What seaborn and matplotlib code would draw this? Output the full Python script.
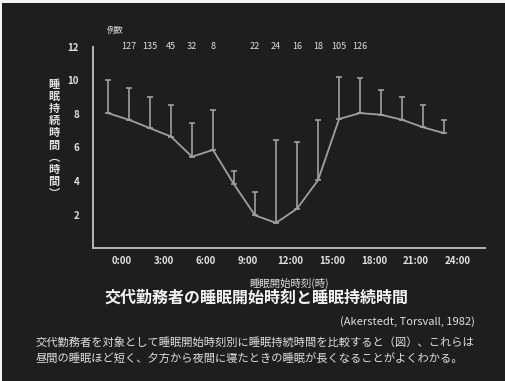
import matplotlib
matplotlib.use("Agg")
import matplotlib.pyplot as plt
import seaborn as sns
import numpy as np
import pandas as pd

# ---- data ----
onset_hours = [-1, 0.5, 2, 3.5, 5, 6.5, 8, 9.5, 11, 12.5, 14, 15.5, 17, 18.5, 20, 21.5, 23]
mean_sleep = [8.05, 7.65, 7.15, 6.65, 5.45, 5.85, 3.8, 1.95, 1.5, 2.35, 4.05, 7.7, 8.05, 7.95, 7.65, 7.2, 6.85]
upper_sleep = [10.0, 9.55, 9.0, 8.55, 7.45, 8.25, 4.6, 3.35, 6.45, 6.35, 7.65, 10.2, 10.15, 9.45, 9.0, 8.55, 7.65]
count_hours = [0.5, 2, 3.5, 5, 6.5, 9.5, 11, 12.5, 14, 15.5, 17]
count_labels = ["127", "135", "45", "32", "8", "22", "24", "16", "18", "105", "126"]
xtick_hours = [0, 3, 6, 9, 12, 15, 18, 21, 24]
xtick_labels = ["0:00", "3:00", "6:00", "9:00", "12:00", "15:00", "18:00", "21:00", "24:00"]
ytick_values = [2, 4, 6, 8, 10, 12]

title = "交代勤務者の睡眠開始時刻と睡眠持続時間"
citation = "(Akerstedt, Torsvall, 1982)"
note1 = "交代勤務者を対象として睡眠開始時刻別に睡眠持続時間を比較すると（図）、これらは"
note2 = "昼間の睡眠ほど短く、夕方から夜間に寝たときの睡眠が長くなることがよくわかる。"
xlabel = "睡眠開始時刻(時)"
ylabel = "睡眠持続時間︵時間︶"

BG = "#1e1e1e"
LINE = "#a0a0a0"
AXC = "#b8b8b8"
TXT = "#e0e0e0"

sns.set_theme(style="dark")
plt.rcParams["font.family"] = ["Noto Sans CJK JP", "DejaVu Sans"]

fig = plt.figure(figsize=(5.05, 3.81), dpi=100, facecolor=BG)
ax = fig.add_axes([0.184, 0.349, 0.776, 0.528])
ax.set_facecolor(BG)

df = pd.DataFrame({"h": onset_hours, "m": mean_sleep, "u": upper_sleep})
sns.lineplot(data=df, x="h", y="m", ax=ax, color=LINE, linewidth=1.3)
err = np.array(upper_sleep) - np.array(mean_sleep)
ax.errorbar(onset_hours, mean_sleep, yerr=[np.zeros(len(err)), err], fmt="none",
            ecolor=LINE, elinewidth=1.2, capsize=2.5, capthick=1.2)

ax.set_xlim(-2.07, 25.9)
ax.set_ylim(0, 12)
ax.set_xticks(xtick_hours)
ax.set_xticklabels(xtick_labels, color=TXT, fontsize=7, fontweight="bold")
ax.set_yticks(ytick_values)
ax.set_yticklabels([str(v) for v in ytick_values], color=TXT, fontsize=7, fontweight="bold")
ax.tick_params(axis="both", direction="in", length=5, width=1.2, color=AXC, pad=6)
ax.tick_params(axis="y", pad=10)
ax.set_xlabel(xlabel, color=TXT, fontsize=7.5, labelpad=8)
ax.set_ylabel("")
ax.grid(False)
for s in ["top", "right"]:
    ax.spines[s].set_visible(False)
for s in ["left", "bottom"]:
    ax.spines[s].set_visible(True)
    ax.spines[s].set_color(AXC)
    ax.spines[s].set_linewidth(1.4)

for h, lab in zip(count_hours, count_labels):
    ax.text(h, 12.0, lab, color=TXT, fontsize=6.5, ha="center", va="center", clip_on=False)
ax.text(-0.5, 13.0, "例数", color=TXT, fontsize=6, ha="center", va="center", clip_on=False)

fig.text(0.107, 0.635, "\n".join(ylabel), color=TXT, fontsize=8, ha="center", va="center",
         linespacing=0.92, fontweight="bold")

fig.text(0.508, 0.218, title, color="#f2f2f2", fontsize=11.5, fontweight="bold", ha="center", va="center")
fig.text(0.94, 0.155, citation, color=TXT, fontsize=8, ha="right", va="center")
fig.text(0.07, 0.102, note1, color=TXT, fontsize=8.1, ha="left", va="center")
fig.text(0.07, 0.06, note2, color=TXT, fontsize=8.1, ha="left", va="center")

# thin light border at top and left edges, as in the reference scan
fig.patches.append(plt.Rectangle((0, 0.992), 1, 0.008, transform=fig.transFigure,
                                 facecolor="#f4f4f4", edgecolor="none"))
fig.patches.append(plt.Rectangle((0, 0), 0.004, 1, transform=fig.transFigure,
                                 facecolor="#f4f4f4", edgecolor="none"))

fig.savefig("out.png", dpi=100, facecolor=BG)
